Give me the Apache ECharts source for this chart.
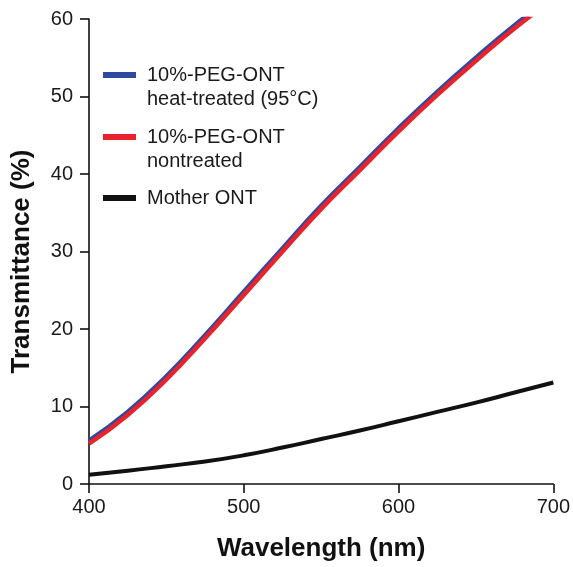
<!DOCTYPE html>
<html>
<head>
<meta charset="utf-8">
<script src="https://cdn.jsdelivr.net/npm/echarts@6/dist/echarts.min.js"></script>
<style>html,body{margin:0;padding:0;background:#fff}#c{width:573px;height:567px}</style>
</head>
<body>
<div id="c"></div>
<script>
var wavelengths = [400, 425, 450, 475, 500, 525, 550, 575, 600, 625, 650, 675, 700];
var heatTreated = [5.6, 9.3, 13.9, 19.2, 24.8, 30.4, 35.9, 40.9, 45.9, 50.6, 55.0, 59.2, 63.0];
var nonTreated  = [5.2, 8.9, 13.5, 18.8, 24.4, 30.0, 35.5, 40.5, 45.5, 50.2, 54.6, 58.8, 62.6];
var motherONT   = [1.2, 1.7, 2.3, 2.9, 3.7, 4.7, 5.8, 6.9, 8.1, 9.3, 10.5, 11.8, 13.1];
var xTicks = [400, 500, 600, 700];
var yTicks = [0, 10, 20, 30, 40, 50, 60];
var seriesNames = ['10%-PEG-ONT\nheat-treated (95\u00b0C)', '10%-PEG-ONT\nnontreated', 'Mother ONT'];
var colors = ['#2e4a9e', '#e8232b', '#111111'];

function pairs(ys) { return wavelengths.map(function (w, i) { return [w, ys[i]]; }); }

var FONT = 'Liberation Sans, Arial, Helvetica, sans-serif';
var chart = echarts.init(document.getElementById('c'), null, { renderer: 'canvas' });

var legendItems = [];
var legendTops = [75, 137, 198];
seriesNames.forEach(function (n, i) {
  legendItems.push({
    type: 'line', shape: { x1: 103, y1: legendTops[i], x2: 136, y2: legendTops[i] },
    style: { stroke: colors[i], lineWidth: 6 }
  });
  legendItems.push({
    type: 'text', x: 147, y: legendTops[i] - 12,
    style: { text: n, font: '20px ' + FONT, fill: '#1a1a1a', lineHeight: 24.5, textVerticalAlign: 'top' }
  });
});

chart.setOption({
  animation: false,
  grid: { left: 89, right: 15, top: 19, bottom: 79, containLabel: false },
  xAxis: {
    type: 'value', min: xTicks[0], max: xTicks[xTicks.length - 1], interval: 100,
    name: 'Wavelength (nm)', nameLocation: 'middle', nameGap: 52,
    nameTextStyle: { fontFamily: FONT, fontWeight: 'bold', fontSize: 26, color: '#111' },
    axisLine: { show: true, onZero: false, lineStyle: { color: '#111', width: 1.6 } },
    axisTick: { show: true, length: 9, lineStyle: { color: '#111', width: 1.6 } },
    axisLabel: { fontFamily: FONT, fontSize: 20, color: '#1a1a1a', margin: 13 },
    splitLine: { show: false }
  },
  yAxis: {
    type: 'value', min: yTicks[0], max: yTicks[yTicks.length - 1], interval: 10,
    name: 'Transmittance (%)', nameLocation: 'middle', nameGap: 54,
    nameTextStyle: { fontFamily: FONT, fontWeight: 'bold', fontSize: 26, color: '#111', padding: [0, 20, 0, 0] },
    axisLine: { show: true, lineStyle: { color: '#111', width: 1.6 } },
    axisTick: { show: true, length: 9, lineStyle: { color: '#111', width: 1.6 } },
    axisLabel: { fontFamily: FONT, fontSize: 20, color: '#1a1a1a', margin: 16 },
    splitLine: { show: false }
  },
  series: [
    { name: seriesNames[2], type: 'line', data: pairs(motherONT), smooth: true, showSymbol: false,
      lineStyle: { color: colors[2], width: 4 }, z: 2 },
    { name: seriesNames[0], type: 'line', data: pairs(heatTreated), smooth: true, showSymbol: false,
      lineStyle: { color: colors[0], width: 4.5 }, z: 3 },
    { name: seriesNames[1], type: 'line', data: pairs(nonTreated), smooth: true, showSymbol: false,
      lineStyle: { color: colors[1], width: 4.5 }, z: 4 }
  ],
  graphic: legendItems
});
</script>
</body>
</html>
